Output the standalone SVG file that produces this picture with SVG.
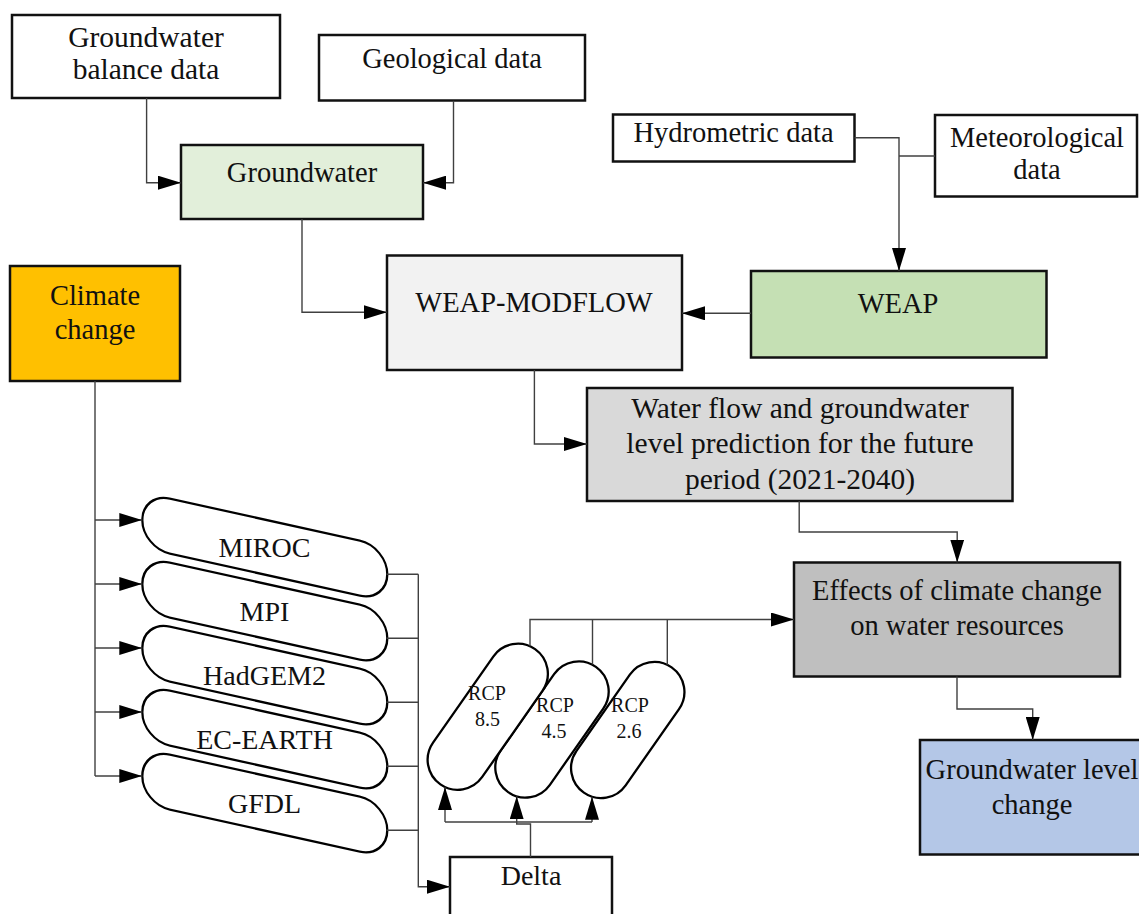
<svg xmlns="http://www.w3.org/2000/svg" width="1139" height="914" viewBox="0 0 1139 914">
<style>
text{font-family:"Liberation Serif","Times New Roman",serif;font-size:28.5px;fill:#111;text-anchor:middle}
.box{stroke:#111;stroke-width:2.5}
.big{font-size:29.5px}
.sm{font-size:20px}
.st{fill:#fff;stroke:#000;stroke-width:2.3}
.c{fill:none;stroke:#404040;stroke-width:1.4}
.a{marker-end:url(#ah)}
</style>
<defs>
<marker id="ah" markerUnits="userSpaceOnUse" markerWidth="23" markerHeight="14" refX="23" refY="7" orient="auto"><path d="M0,0 L23,7 L0,14 Z" fill="#000"/></marker>
<path id="stad" d="M27.5,-27.5 H217.5 A27.5,27.5 0 0 1 217.5,27.5 H27.5 A27.5,27.5 0 0 1 27.5,-27.5 Z"/>
</defs>
<rect width="1139" height="914" fill="#fff"/>

<g id="gbd"><rect class="box" x="12" y="15" width="268" height="83" fill="#fff"/><text class="big" x="146" y="47">Groundwater</text><text class="big" x="146" y="79">balance data</text></g>
<g id="geo"><rect class="box" x="319" y="35" width="266" height="65.5" fill="#fff"/><text x="452" y="68">Geological data</text></g>
<g id="gw"><rect class="box" x="181" y="145" width="242" height="74" fill="#E2EFDA"/><text x="302" y="181.5">Groundwater</text></g>
<g id="hydro"><rect class="box" x="613" y="114.5" width="241.5" height="47" fill="#fff"/><text x="733.5" y="141.5">Hydrometric data</text></g>
<g id="met"><rect class="box" x="935" y="115" width="202" height="81.5" fill="#fff"/><text x="1037" y="146.5">Meteorological</text><text x="1037" y="178.5">data</text></g>
<g id="weap"><rect class="box" x="751" y="271" width="295.5" height="86.5" fill="#C5E0B4"/><text x="898" y="313">WEAP</text></g>
<g id="wm"><rect class="box" x="387" y="255.5" width="295" height="114.5" fill="#F2F2F2"/><text x="534" y="312">WEAP-MODFLOW</text></g>
<g id="climate"><rect class="box" x="10" y="266" width="170" height="115" fill="#FFC000"/><text x="95" y="304.5">Climate</text><text x="95" y="338.5">change</text></g>
<g id="wflow"><rect class="box" x="587" y="388" width="425.5" height="113" fill="#D9D9D9"/><text class="big" x="800" y="417.5">Water flow and groundwater</text><text class="big" x="800" y="453">level prediction for the future</text><text class="big" x="800" y="489">period (2021-2040)</text></g>
<g id="effects"><rect class="box" x="794" y="562.5" width="326" height="114" fill="#BFBFBF"/><text x="957" y="600">Effects of climate change</text><text x="957" y="635">on water resources</text></g>
<g id="glc"><rect class="box" x="920" y="740" width="224" height="114.5" fill="#B4C7E7"/><text x="1032" y="779">Groundwater level</text><text x="1032" y="813.5">change</text></g>
<g id="delta"><rect class="box" x="450" y="857" width="162" height="70" fill="#fff"/><text x="531" y="885" style="font-size:28px">Delta</text></g>

<g id="miroc"><use href="#stad" class="st" vector-effect="non-scaling-stroke" transform="translate(142.3,520) skewY(12.5)"/><text x="264.5" y="557" style="font-size:28px">MIROC</text></g>
<g id="mpi"><use href="#stad" class="st" transform="translate(142.3,584) skewY(12.5)"/><text x="264.5" y="621" style="font-size:28px">MPI</text></g>
<g id="hadgem2"><use href="#stad" class="st" transform="translate(142.3,648) skewY(12.5)"/><text x="264.5" y="684.5" style="font-size:28px">HadGEM2</text></g>
<g id="ecearth"><use href="#stad" class="st" transform="translate(142.3,712) skewY(12.5)"/><text x="264.5" y="749" style="font-size:28px">EC-EARTH</text></g>
<g id="gfdl"><use href="#stad" class="st" transform="translate(142.3,776) skewY(12.5)"/><text x="264.5" y="813" style="font-size:28px">GFDL</text></g>

<g id="rcp26"><rect class="st" x="-30" y="-76.5" width="60" height="153" rx="30" transform="translate(627.75,730) rotate(35)"/><text class="sm" x="630" y="711.5">RCP</text><text class="sm" x="629" y="737.5">2.6</text></g>
<g id="rcp45"><rect class="st" x="-30" y="-76.5" width="60" height="153" rx="30" transform="translate(552,729.5) rotate(35)"/><text class="sm" x="555" y="711.5">RCP</text><text class="sm" x="554" y="737.5">4.5</text></g>
<g id="rcp85"><rect class="st" x="-30" y="-82.5" width="60" height="165" rx="30" transform="translate(487.75,716.75) rotate(35)"/><text class="sm" x="487" y="700">RCP</text><text class="sm" x="487.5" y="726">8.5</text></g>

<g id="connectors">
<path class="c a" d="M146.6,98 V182.7 H181"/>
<path class="c a" d="M453.5,100.7 V182.7 H423"/>
<path class="c a" d="M302,219 V312.3 H387"/>
<path class="c a" d="M854.5,137.7 H899 V271"/>
<path class="c" d="M935,156 H899"/>
<path class="c a" d="M751,313.3 H682"/>
<path class="c a" d="M534.4,370 V444 H587"/>
<path class="c a" d="M799.2,501 V532 H957.2 V562.5"/>
<path class="c a" d="M530,646.3 V619.5 H794"/>
<path class="c" d="M592.5,664.5 V619.5 M667.3,664.7 V619.5"/>
<path class="c a" d="M957,676.5 V709 H1032.7 V740"/>
<path class="c" d="M95,381 V776"/>
<path class="c a" d="M95,520 H142.3"/>
<path class="c a" d="M95,584 H142.3"/>
<path class="c a" d="M95,648 H142.3"/>
<path class="c a" d="M95,712 H142.3"/>
<path class="c a" d="M95,776 H142.3"/>
<path class="c" d="M386.7,574.3 H418.3 M386.7,638.3 H418.3 M386.7,702.3 H418.3 M386.7,766.3 H418.3 M386.7,830.3 H418.3"/>
<path class="c a" d="M418.3,574.3 V886.7 H450"/>
<path class="c a" d="M530.5,857 V824 H516.7 V796.3"/>
<path class="c" d="M445,822 H592"/>
<path class="c a" d="M445,822 V787"/>
<path class="c a" d="M592,822 V796.7"/>
</g>
</svg>
